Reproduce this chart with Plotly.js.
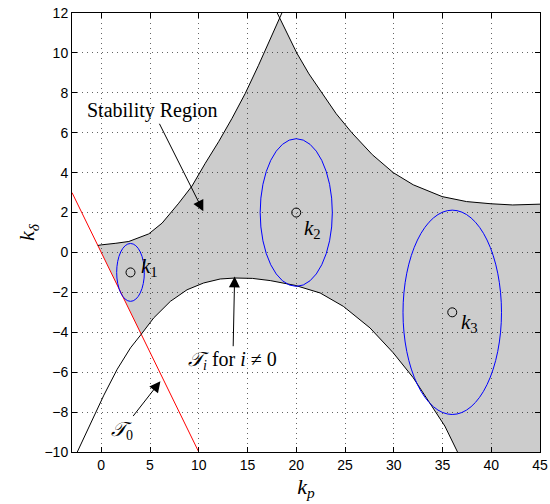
<!DOCTYPE html>
<html>
<head>
<meta charset="utf-8">
<script src="https://cdn.plot.ly/plotly-3.0.1.min.js"></script>
<style>
body { margin: 0; background: #fff; }
#grafico-estabilidad { width: 550px; height: 504px; }
</style>
</head>
<body>
<div id="grafico-estabilidad"></div>
<script>
// rango de los ejes
const xRange = [-3, 45];
const yRange = [-10, 12];
const xTicks = [0, 5, 10, 15, 20, 25, 30, 35, 40, 45];
const yTicks = [-10, -8, -6, -4, -2, 0, 2, 4, 6, 8, 10, 12];

// frontera superior izquierda (T_i)
const upperLeftX = [-0.35, 0, 1.5, 2.83, 4.87, 6.24, 7.95, 9.31, 10.67, 12.04, 13.41, 14.77, 16.13, 17.5, 18.3, 18.8];
const upperLeftY = [0.35, 0.38, 0.46, 0.55, 0.93, 1.47, 2.47, 3.33, 4.47, 5.55, 6.72, 7.97, 9.38, 10.88, 11.75, 12.3];

// frontera superior derecha
const upperRightX = [17.75, 18.3, 19.1, 20.05, 21.3, 22.6, 24.1, 25.7, 27.8, 29.95, 32.0, 34.96, 37.46, 39.98, 42.2, 45];
const upperRightY = [12.3, 11.75, 10.95, 10, 8.95, 8, 6.95, 6, 4.9, 4, 3.39, 2.8, 2.55, 2.44, 2.38, 2.42];

// frontera inferior
const lowerX = [-2.46, -1.1, 0.27, 1.64, 3.0, 4.1, 5.38, 7.09, 8.8, 10.5, 12.2, 13.75, 15.5, 17.33, 19.89, 22.45, 24.83, 27.56, 29.95, 32.0, 33.7, 35.24, 36.54];
const lowerY = [-10, -8.55, -7.15, -5.85, -4.78, -4.1, -3.28, -2.45, -1.87, -1.53, -1.33, -1.28, -1.3, -1.41, -1.65, -2.03, -2.7, -3.78, -5.03, -6.28, -7.53, -8.7, -10];

// recta T_0
const t0X = [-3, 10];
const t0Y = [3, -10];

// controladores k1, k2, k3 y sus elipses
const kX = [3, 20, 36];
const kY = [-1, 2, -3];
const kNames = ["1", "2", "3"];
const ellRx = [1.42, 3.7, 5.05];
const ellRy = [1.45, 3.7, 5.12];

const serif = "Liberation Serif, DejaVu Serif, serif";

function regionEstable() {
	let xs = upperLeftX.slice(0, -1).concat(upperRightX.slice(2));
	let ys = upperLeftY.slice(0, -1).concat(upperRightY.slice(2));
	xs.push(xRange[1]);
	ys.push(yRange[0]);
	for (var i = lowerX.length - 1; i >= 0; i--) {
		if (lowerX[i] >= 4.1) {
			xs.push(lowerX[i]);
			ys.push(lowerY[i]);
		}
	}
	return {
		x: xs, y: ys,
		type: "scatter", mode: "lines",
		fill: "toself",
		fillcolor: "rgba(0,0,0,0.2)",
		line: { width: 0 },
		hoverinfo: "skip"
	};
}

function linea(x, y, color) {
	return {
		x: x, y: y,
		type: "scatter", mode: "lines",
		line: { color: color, width: 1 },
		hoverinfo: "skip"
	};
}

function flecha(texto, x, y, ax, ay) {
	return {
		x: x, y: y, ax: ax, ay: ay,
		xref: "x", yref: "y", axref: "x", ayref: "y",
		text: texto, showarrow: true,
		arrowhead: 2, arrowsize: 2.2, arrowwidth: 1, arrowcolor: "#000",
		font: { family: serif, size: 20, color: "#000" }
	};
}

function GraficoEstabilidad() {
	var data = [
		regionEstable(),
		linea(t0X, t0Y, "#ff0000"),
		linea(upperLeftX, upperLeftY, "#000000"),
		linea(upperRightX, upperRightY, "#000000"),
		linea(lowerX, lowerY, "#000000"),
		{
			x: kX, y: kY,
			type: "scatter", mode: "markers",
			marker: { symbol: "circle-open", size: 9, color: "#000", line: { width: 1, color: "#000" } },
			hoverinfo: "skip"
		}
	];

	var shapes = [];
	for (var i = 0; i < kX.length; i++) {
		shapes.push({
			type: "circle", xref: "x", yref: "y", layer: "above",
			x0: kX[i] - ellRx[i], x1: kX[i] + ellRx[i],
			y0: kY[i] - ellRy[i], y1: kY[i] + ellRy[i],
			line: { color: "#0000ff", width: 1 }
		});
	}

	var labelPos = [[3.85, -0.72], [20.6, 1.2], [36.7, -3.55]];
	var annotations = [];
	for (var i = 0; i < kX.length; i++) {
		annotations.push({
			x: labelPos[i][0], y: labelPos[i][1],
			xref: "x", yref: "y", xanchor: "left", yanchor: "middle",
			text: "<i>k</i><sub>" + kNames[i] + "</sub>",
			showarrow: false,
			font: { family: serif, size: 21, color: "#000" }
		});
	}

	annotations.push(flecha("Stability Region", 10.47, 2.06, 5.3, 7.1));
	annotations.push(flecha("<i>\u{1D4AF}</i><sub><i>i</i></sub> for <i>i</i> \u2260 0", 13.68, -1.2, 13.5, -5.4));
	annotations.push(flecha("<i>\u{1D4AF}</i><sub>0</sub>", 6.07, -6.45, 2.15, -8.9));

	var ejeBase = {
		showline: true, linecolor: "#000", linewidth: 1,
		mirror: "ticks", ticks: "inside", ticklen: 5, tickcolor: "#000",
		showgrid: true, gridcolor: "#666", griddash: "1px,4px", gridwidth: 1,
		zeroline: false,
		tickfont: { family: "Liberation Sans, Arial, sans-serif", size: 14, color: "#000" }
	};

	var layout = {
		width: 550, height: 504,
		margin: { l: 72, r: 10, t: 13, b: 52 },
		paper_bgcolor: "#fff", plot_bgcolor: "#fff",
		showlegend: false,
		xaxis: Object.assign({}, ejeBase, {
			range: xRange, tickvals: xTicks,
			title: { text: "<i>k<sub>p</sub></i>", font: { family: serif, size: 22, color: "#000" }, standoff: 6 }
		}),
		yaxis: Object.assign({}, ejeBase, {
			range: yRange, tickvals: yTicks,
			title: { text: "<i>k</i><sub><i>\u03b4</i></sub>", font: { family: serif, size: 22, color: "#000" }, standoff: 3 }
		}),
		shapes: shapes,
		annotations: annotations
	};

	var config = { staticPlot: true };

	Plotly.newPlot("grafico-estabilidad", data, layout, config);
}

document.addEventListener("DOMContentLoaded", function() {
	GraficoEstabilidad();
});
</script>
</body>
</html>
